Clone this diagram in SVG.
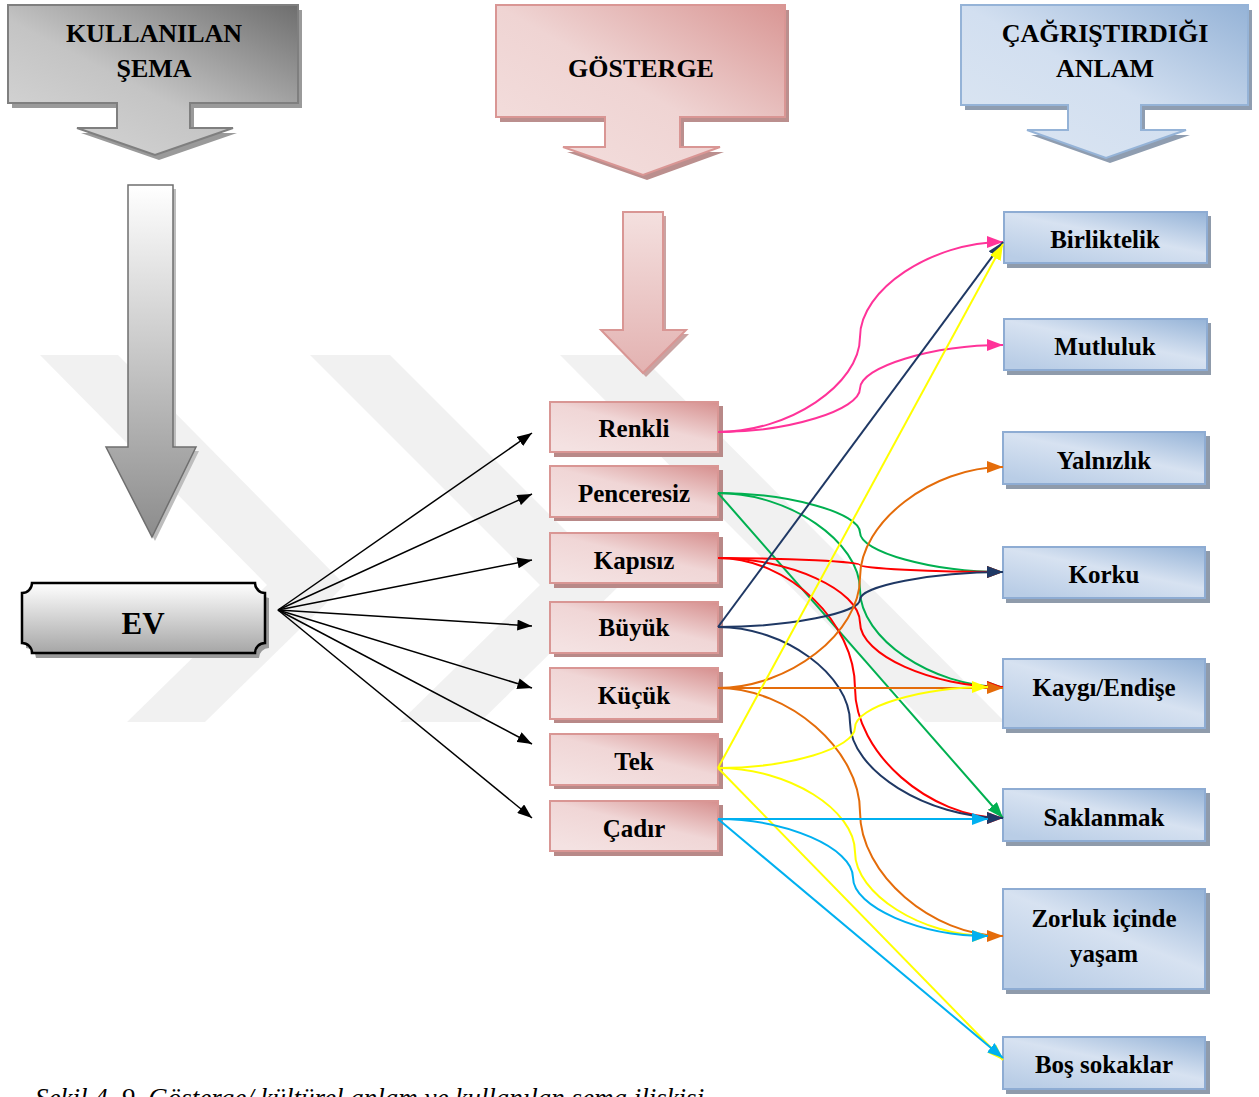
<svg xmlns="http://www.w3.org/2000/svg" width="1259" height="1097" viewBox="0 0 1259 1097">
<defs>
<linearGradient id="gGray" x1="1" y1="0" x2="0" y2="1"><stop offset="0" stop-color="#6e6e6e"/><stop offset="0.55" stop-color="#c4c4c4"/><stop offset="1" stop-color="#d9d9d9"/></linearGradient>
<linearGradient id="gPink" x1="1" y1="0" x2="0" y2="1"><stop offset="0" stop-color="#d99694"/><stop offset="0.5" stop-color="#efd4d3"/><stop offset="1" stop-color="#f4e0df"/></linearGradient>
<linearGradient id="gBlue" x1="1" y1="0" x2="0" y2="1"><stop offset="0" stop-color="#95b3d7"/><stop offset="0.5" stop-color="#d2dff0"/><stop offset="1" stop-color="#dce6f2"/></linearGradient>
<linearGradient id="gPinkBox" x1="1" y1="0" x2="0.2" y2="1"><stop offset="0" stop-color="#d68f8e"/><stop offset="0.5" stop-color="#f0d6d6"/><stop offset="1" stop-color="#f4e2e2"/></linearGradient>
<linearGradient id="gBlueBox" x1="1" y1="0" x2="0.2" y2="1"><stop offset="0" stop-color="#95b3d7"/><stop offset="0.5" stop-color="#d7e2f1"/><stop offset="1" stop-color="#b9cde6"/></linearGradient>
<linearGradient id="gGrayV" x1="0" y1="0" x2="0" y2="1"><stop offset="0" stop-color="#ffffff"/><stop offset="1" stop-color="#8c8c8c"/></linearGradient>
<linearGradient id="gPinkV" x1="0" y1="0" x2="0" y2="1"><stop offset="0" stop-color="#f4e0df"/><stop offset="1" stop-color="#e3b2b1"/></linearGradient>
<linearGradient id="gEV" x1="0" y1="0" x2="0" y2="1"><stop offset="0" stop-color="#ffffff"/><stop offset="1" stop-color="#a6a6a6"/></linearGradient>
<marker id="aK" viewBox="0 0 16 12" refX="16" refY="6" markerWidth="15" markerHeight="11" markerUnits="userSpaceOnUse" orient="auto"><path d="M0,0 L16,6 L0,12 Z" fill="#000"/></marker>
<marker id="aPk" viewBox="0 0 16 12" refX="16" refY="6" markerWidth="16" markerHeight="12" markerUnits="userSpaceOnUse" orient="auto"><path d="M0,0 L16,6 L0,12 Z" fill="#ff3399"/></marker>
<marker id="aG" viewBox="0 0 16 12" refX="16" refY="6" markerWidth="16" markerHeight="12" markerUnits="userSpaceOnUse" orient="auto"><path d="M0,0 L16,6 L0,12 Z" fill="#00b050"/></marker>
<marker id="aR" viewBox="0 0 16 12" refX="16" refY="6" markerWidth="16" markerHeight="12" markerUnits="userSpaceOnUse" orient="auto"><path d="M0,0 L16,6 L0,12 Z" fill="#ff0000"/></marker>
<marker id="aN" viewBox="0 0 16 12" refX="16" refY="6" markerWidth="16" markerHeight="12" markerUnits="userSpaceOnUse" orient="auto"><path d="M0,0 L16,6 L0,12 Z" fill="#1f3864"/></marker>
<marker id="aO" viewBox="0 0 16 12" refX="16" refY="6" markerWidth="16" markerHeight="12" markerUnits="userSpaceOnUse" orient="auto"><path d="M0,0 L16,6 L0,12 Z" fill="#e46c0a"/></marker>
<marker id="aY" viewBox="0 0 16 12" refX="16" refY="6" markerWidth="16" markerHeight="12" markerUnits="userSpaceOnUse" orient="auto"><path d="M0,0 L16,6 L0,12 Z" fill="#ffff00"/></marker>
<marker id="aC" viewBox="0 0 16 12" refX="16" refY="6" markerWidth="16" markerHeight="12" markerUnits="userSpaceOnUse" orient="auto"><path d="M0,0 L16,6 L0,12 Z" fill="#00b0f0"/></marker>
</defs>
<style>
text{font-family:"Liberation Serif","Times New Roman",serif;font-weight:bold;fill:#000;text-anchor:middle}
.h{font-size:26px}
.n{font-size:25px}
.pk{fill:url(#gPinkBox);stroke:#d99694;stroke-width:2}
.bl{fill:url(#gBlueBox);stroke:#8eacd3;stroke-width:2}
.shP{fill:#b88988}
.shB{fill:#8f9bab}
.wm{fill:#ebebeb;opacity:0.7}
.c{fill:none;stroke-width:2}
.k{fill:none;stroke:#000;stroke-width:1.5;marker-end:url(#aK)}
.cap{font-family:"Liberation Serif","Times New Roman",serif;font-style:italic;font-weight:normal;font-size:27px;text-anchor:start}
</style>
<rect width="1259" height="1097" fill="#fff"/>
<g id="watermark">
<polygon class="wm" points="40,355 118,355 345,585 205,722 127,722 267,585"/>
<polygon class="wm" points="310,355 390,355 620,585 480,722 400,722 540,585"/>
<polygon class="wm" points="560,355 640,355 1005,722 925,722"/>
</g>
<g id="hdr-sema">
<path d="M8,5 H298 V103 H190 V128 H233 L155,155 L77,128 H117 V103 H8 Z" fill="#9a9a9a" transform="translate(4,5)"/>
<path d="M8,5 H298 V103 H190 V128 H233 L155,155 L77,128 H117 V103 H8 Z" fill="url(#gGray)" stroke="#7f7f7f" stroke-width="2"/>
<text class="h" x="154" y="42">KULLANILAN</text>
<text class="h" x="154" y="77">ŞEMA</text>
</g>
<g id="hdr-gosterge">
<path d="M496,5 H785 V117 H680 V147 H720 L643,175 L563,147 H605 V117 H496 Z" fill="#bb8f8e" transform="translate(4,5)"/>
<path d="M496,5 H785 V117 H680 V147 H720 L643,175 L563,147 H605 V117 H496 Z" fill="url(#gPink)" stroke="#d99694" stroke-width="2"/>
<text class="h" x="641" y="77">GÖSTERGE</text>
</g>
<g id="hdr-anlam">
<path d="M961,5 H1248 V105 H1141 V130 H1186 L1106,158 L1027,130 H1068 V105 H961 Z" fill="#8f9db0" transform="translate(4,5)"/>
<path d="M961,5 H1248 V105 H1141 V130 H1186 L1106,158 L1027,130 H1068 V105 H961 Z" fill="url(#gBlue)" stroke="#95b3d7" stroke-width="2"/>
<text class="h" x="1105" y="42">ÇAĞRIŞTIRDIĞI</text>
<text class="h" x="1105" y="77">ANLAM</text>
</g>
<g id="arrow-gray">
<path d="M128,185 H173 V447 H196 L152,537 L106,447 H128 Z" fill="#bdbdbd" transform="translate(3,4)"/>
<path d="M128,185 H173 V447 H196 L152,537 L106,447 H128 Z" fill="url(#gGrayV)" stroke="#6f6f6f" stroke-width="1.5"/>
</g>
<g id="arrow-pink">
<path d="M623,212 H663 V330 H686 L643,373 L601,330 H623 Z" fill="#caa3a2" transform="translate(3,4)"/>
<path d="M623,212 H663 V330 H686 L643,373 L601,330 H623 Z" fill="url(#gPinkV)" stroke="#d99694" stroke-width="2"/>
</g>
<g id="ev">
<path d="M32,583 H255 A10,10 0 0 0 265,593 V643 A10,10 0 0 0 255,653 H32 A10,10 0 0 0 22,643 V593 A10,10 0 0 0 32,583 Z" fill="#9a9a9a" transform="translate(4,5)"/>
<path d="M32,583 H255 A10,10 0 0 0 265,593 V643 A10,10 0 0 0 255,653 H32 A10,10 0 0 0 22,643 V593 A10,10 0 0 0 32,583 Z" fill="url(#gEV)" stroke="#000" stroke-width="2.5"/>
<text x="143" y="634" style="font-size:31px">EV</text>
</g>
<g id="n-renkli"><rect class="shP" x="554" y="406" width="169" height="51"/><rect class="pk" x="550" y="402" width="168" height="50"/><text class="n" x="634" y="437">Renkli</text></g>
<g id="n-penceresiz"><rect class="shP" x="554" y="470" width="169" height="51"/><rect class="pk" x="550" y="466" width="168" height="51"/><text class="n" x="634" y="502">Penceresiz</text></g>
<g id="n-kapisiz"><rect class="shP" x="554" y="537" width="169" height="51"/><rect class="pk" x="550" y="533" width="168" height="50"/><text class="n" x="634" y="569">Kapısız</text></g>
<g id="n-buyuk"><rect class="shP" x="554" y="606" width="169" height="51"/><rect class="pk" x="550" y="602" width="168" height="51"/><text class="n" x="634" y="636">Büyük</text></g>
<g id="n-kucuk"><rect class="shP" x="554" y="672" width="169" height="51"/><rect class="pk" x="550" y="668" width="168" height="51"/><text class="n" x="634" y="704">Küçük</text></g>
<g id="n-tek"><rect class="shP" x="554" y="738" width="169" height="51"/><rect class="pk" x="550" y="734" width="168" height="51"/><text class="n" x="634" y="770">Tek</text></g>
<g id="n-cadir"><rect class="shP" x="554" y="805" width="169" height="51"/><rect class="pk" x="550" y="801" width="168" height="50"/><text class="n" x="634" y="837">Çadır</text></g>
<g id="r-birliktelik"><rect class="shB" x="1007" y="216" width="204" height="52"/><rect class="bl" x="1004" y="212" width="203" height="51"/><text class="n" x="1105" y="248">Birliktelik</text></g>
<g id="r-mutluluk"><rect class="shB" x="1007" y="323" width="204" height="52"/><rect class="bl" x="1004" y="319" width="203" height="51"/><text class="n" x="1105" y="355">Mutluluk</text></g>
<g id="r-yalnizlik"><rect class="shB" x="1006" y="436" width="204" height="53"/><rect class="bl" x="1003" y="432" width="202" height="52"/><text class="n" x="1104" y="469">Yalnızlık</text></g>
<g id="r-korku"><rect class="shB" x="1006" y="551" width="204" height="52"/><rect class="bl" x="1003" y="547" width="202" height="51"/><text class="n" x="1104" y="583">Korku</text></g>
<g id="r-kaygi"><rect class="shB" x="1006" y="663" width="204" height="70"/><rect class="bl" x="1003" y="659" width="202" height="69"/><text class="n" x="1104" y="696">Kaygı/Endişe</text></g>
<g id="r-saklanmak"><rect class="shB" x="1006" y="793" width="204" height="53"/><rect class="bl" x="1003" y="789" width="202" height="52"/><text class="n" x="1104" y="826">Saklanmak</text></g>
<g id="r-zorluk"><rect class="shB" x="1006" y="893" width="204" height="101"/><rect class="bl" x="1003" y="889" width="202" height="100"/><text class="n" x="1104" y="927">Zorluk içinde</text><text class="n" x="1104" y="962">yaşam</text></g>
<g id="r-bos"><rect class="shB" x="1006" y="1041" width="204" height="53"/><rect class="bl" x="1003" y="1037" width="202" height="52"/><text class="n" x="1104" y="1073">Boş sokaklar</text></g>
<g id="connectors">
<line class="k" x1="278" y1="610" x2="532" y2="433"/>
<line class="k" x1="278" y1="610" x2="532" y2="494"/>
<line class="k" x1="278" y1="610" x2="532" y2="560"/>
<line class="k" x1="278" y1="610" x2="532" y2="626"/>
<line class="k" x1="278" y1="610" x2="532" y2="688"/>
<line class="k" x1="278" y1="610" x2="532" y2="744"/>
<line class="k" x1="278" y1="610" x2="532" y2="818"/>
<path class="c" stroke="#ff3399" marker-end="url(#aPk)" d="M718,432 C789,432 860,384.5 860,337 C860,289.5 932,242 1003,242"/>
<path class="c" stroke="#ff3399" marker-end="url(#aPk)" d="M718,432 C789,432 860,410 860,388.5 C860,367 932,345 1003,345"/>
<path class="c" stroke="#00b050" marker-end="url(#aG)" d="M718,493 C789,493 860,513 860,532.5 C860,552 932,572 1003,572"/>
<path class="c" stroke="#00b050" marker-end="url(#aG)" d="M718,493 C789,493 860,541.5 860,590 C860,638.5 932,687 1003,687"/>
<path class="c" stroke="#00b050" marker-end="url(#aG)" d="M718,493 L1003,818"/>
<path class="c" stroke="#ff0000" marker-end="url(#aR)" d="M718,558 C789,558 860,561.5 860,565 C860,568.5 932,572 1003,572"/>
<path class="c" stroke="#ff0000" marker-end="url(#aR)" d="M718,558 C789,558 860,590 860,622.5 C860,655 932,687 1003,687"/>
<path class="c" stroke="#ff0000" marker-end="url(#aR)" d="M718,558 C789,558 855,623 855,688 C855,753 929,818 1003,818"/>
<path class="c" stroke="#1f3864" marker-end="url(#aN)" d="M718,627 L1003,242"/>
<path class="c" stroke="#1f3864" marker-end="url(#aN)" d="M718,627 C789,627 860,613 860,599.5 C860,586 932,572 1003,572"/>
<path class="c" stroke="#1f3864" marker-end="url(#aN)" d="M718,627 C785,627 850,675 850,722.5 C850,770 927,818 1003,818"/>
<path class="c" stroke="#e46c0a" marker-end="url(#aO)" d="M718,688 C789,688 860,633 860,577.5 C860,522 932,467 1003,467"/>
<path class="c" stroke="#e46c0a" marker-end="url(#aO)" d="M718,688 L1003,688"/>
<path class="c" stroke="#e46c0a" marker-end="url(#aO)" d="M718,688 C789,688 860,750 860,812 C860,874 932,936 1003,936"/>
<path class="c" stroke="#ffff00" marker-end="url(#aY)" d="M718,768 L1003,244"/>
<path class="c" stroke="#ffff00" marker-end="url(#aY)" d="M718,768 C789,768 855,748 855,727.5 C855,707 922,687 988,687"/>
<path class="c" stroke="#ffff00" marker-end="url(#aY)" d="M718,768 C789,768 855,810 855,852 C855,894 922,936 988,936"/>
<path class="c" stroke="#ffff00" marker-end="url(#aY)" d="M718,768 L1003,1060"/>
<path class="c" stroke="#00b0f0" marker-end="url(#aC)" d="M718,819 L988,819"/>
<path class="c" stroke="#00b0f0" marker-end="url(#aC)" d="M718,819 C786,819 853,848 853,877.5 C853,907 920,936 988,936"/>
<path class="c" stroke="#00b0f0" marker-end="url(#aC)" d="M718,819 L1003,1058"/>
</g>
<text class="cap" x="35" y="1107">Şekil 4. 9. Gösterge/ kültürel anlam ve kullanılan şema ilişkisi</text>
</svg>
